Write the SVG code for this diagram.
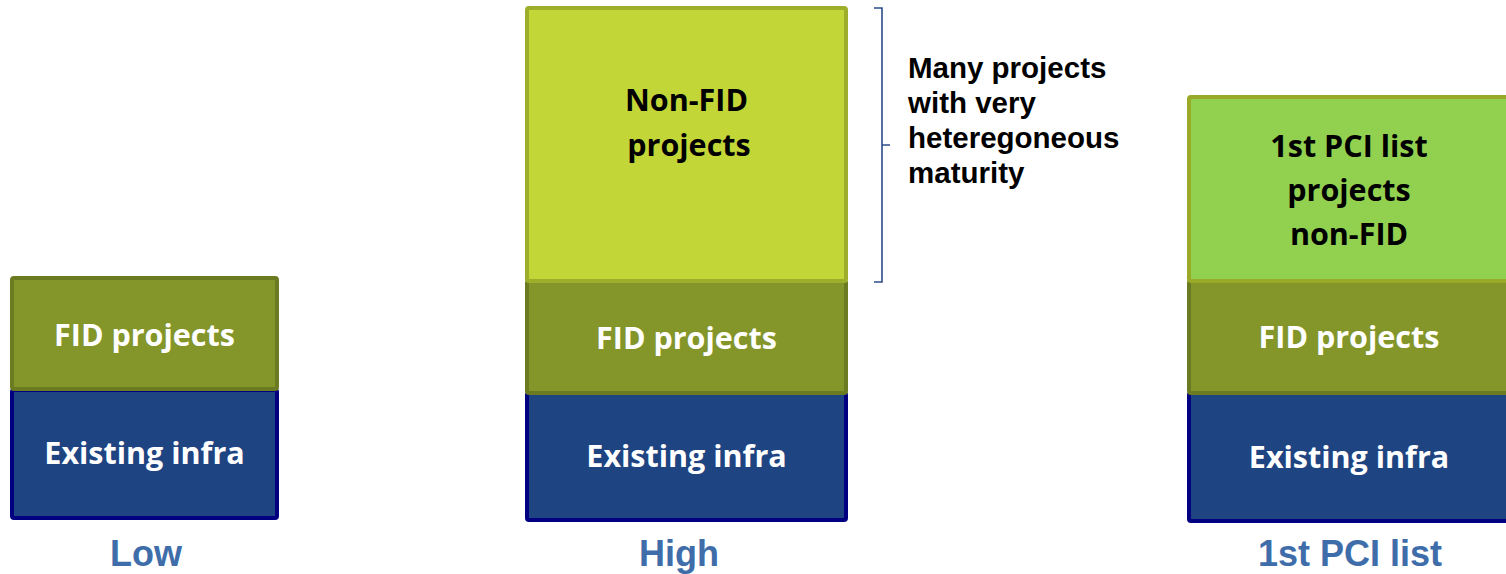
<svg xmlns="http://www.w3.org/2000/svg" width="1506" height="574" viewBox="0 0 1506 574">
<style>
.infra{fill:#1F4482;stroke:#000080;stroke-width:4}
.fid{fill:#84962A;stroke:#6B7B22;stroke-width:4}
.nonfid{fill:#C3D638;stroke:#9DAE2A;stroke-width:4}
.pci{fill:#92D050;stroke:#9AAA28;stroke-width:4}
.bt{font-family:"Open Sans","Liberation Sans",sans-serif;font-weight:bold;font-size:30.5px;text-anchor:middle}
.w{fill:#FFFFFF}
.k{fill:#000000}
.lbl{font-family:"Liberation Sans",Arial,sans-serif;font-weight:bold;font-size:36px;fill:#3E6DAA;text-anchor:middle}
.note{font-family:"Liberation Sans",Arial,sans-serif;font-weight:bold;font-size:29.5px;fill:#000000}
</style>
<rect width="1506" height="574" fill="#FFFFFF"/>
<g id="col-low">
  <rect class="infra" x="12" y="390" width="265" height="128" rx="2"/>
  <rect class="fid" x="12" y="278" width="265" height="111" rx="2"/>
  <text class="bt w" x="144.5" y="346">FID projects</text>
  <text class="bt w" x="144.5" y="464">Existing infra</text>
  <text class="lbl" x="146" y="566">Low</text>
</g>
<g id="col-high">
  <rect class="infra" x="527" y="393" width="319" height="127" rx="2"/>
  <rect class="fid" x="527" y="281" width="319" height="112" rx="2"/>
  <rect class="nonfid" x="527" y="8" width="319" height="273" rx="2"/>
  <text class="bt k" x="686.5" y="111">Non-FID</text>
  <text class="bt k" x="689" y="156">projects</text>
  <text class="bt w" x="686.5" y="349">FID projects</text>
  <text class="bt w" x="686.5" y="467">Existing infra</text>
  <text class="lbl" x="679" y="566">High</text>
</g>
<g id="col-pci">
  <rect class="infra" x="1189" y="393" width="330" height="128" rx="2"/>
  <rect class="fid" x="1189" y="281" width="330" height="112" rx="2"/>
  <rect class="pci" x="1189" y="97" width="330" height="184" rx="2"/>
  <text class="bt k" x="1349" y="157">1st PCI list</text>
  <text class="bt k" x="1349" y="201">projects</text>
  <text class="bt k" x="1349" y="245">non-FID</text>
  <text class="bt w" x="1349" y="348">FID projects</text>
  <text class="bt w" x="1349" y="468">Existing infra</text>
  <text class="lbl" x="1350" y="566">1st PCI list</text>
</g>
<g id="connectors">
  <path d="M874,8 H882 V145 H890 M882,145 V282 H874" fill="none" stroke="#2B4C8C" stroke-width="1.6"/>
</g>
<g id="note">
  <text class="note" x="908" y="78">Many projects</text>
  <text class="note" x="908" y="113">with very</text>
  <text class="note" x="908" y="148">heteregoneous</text>
  <text class="note" x="908" y="183">maturity</text>
</g>
</svg>
